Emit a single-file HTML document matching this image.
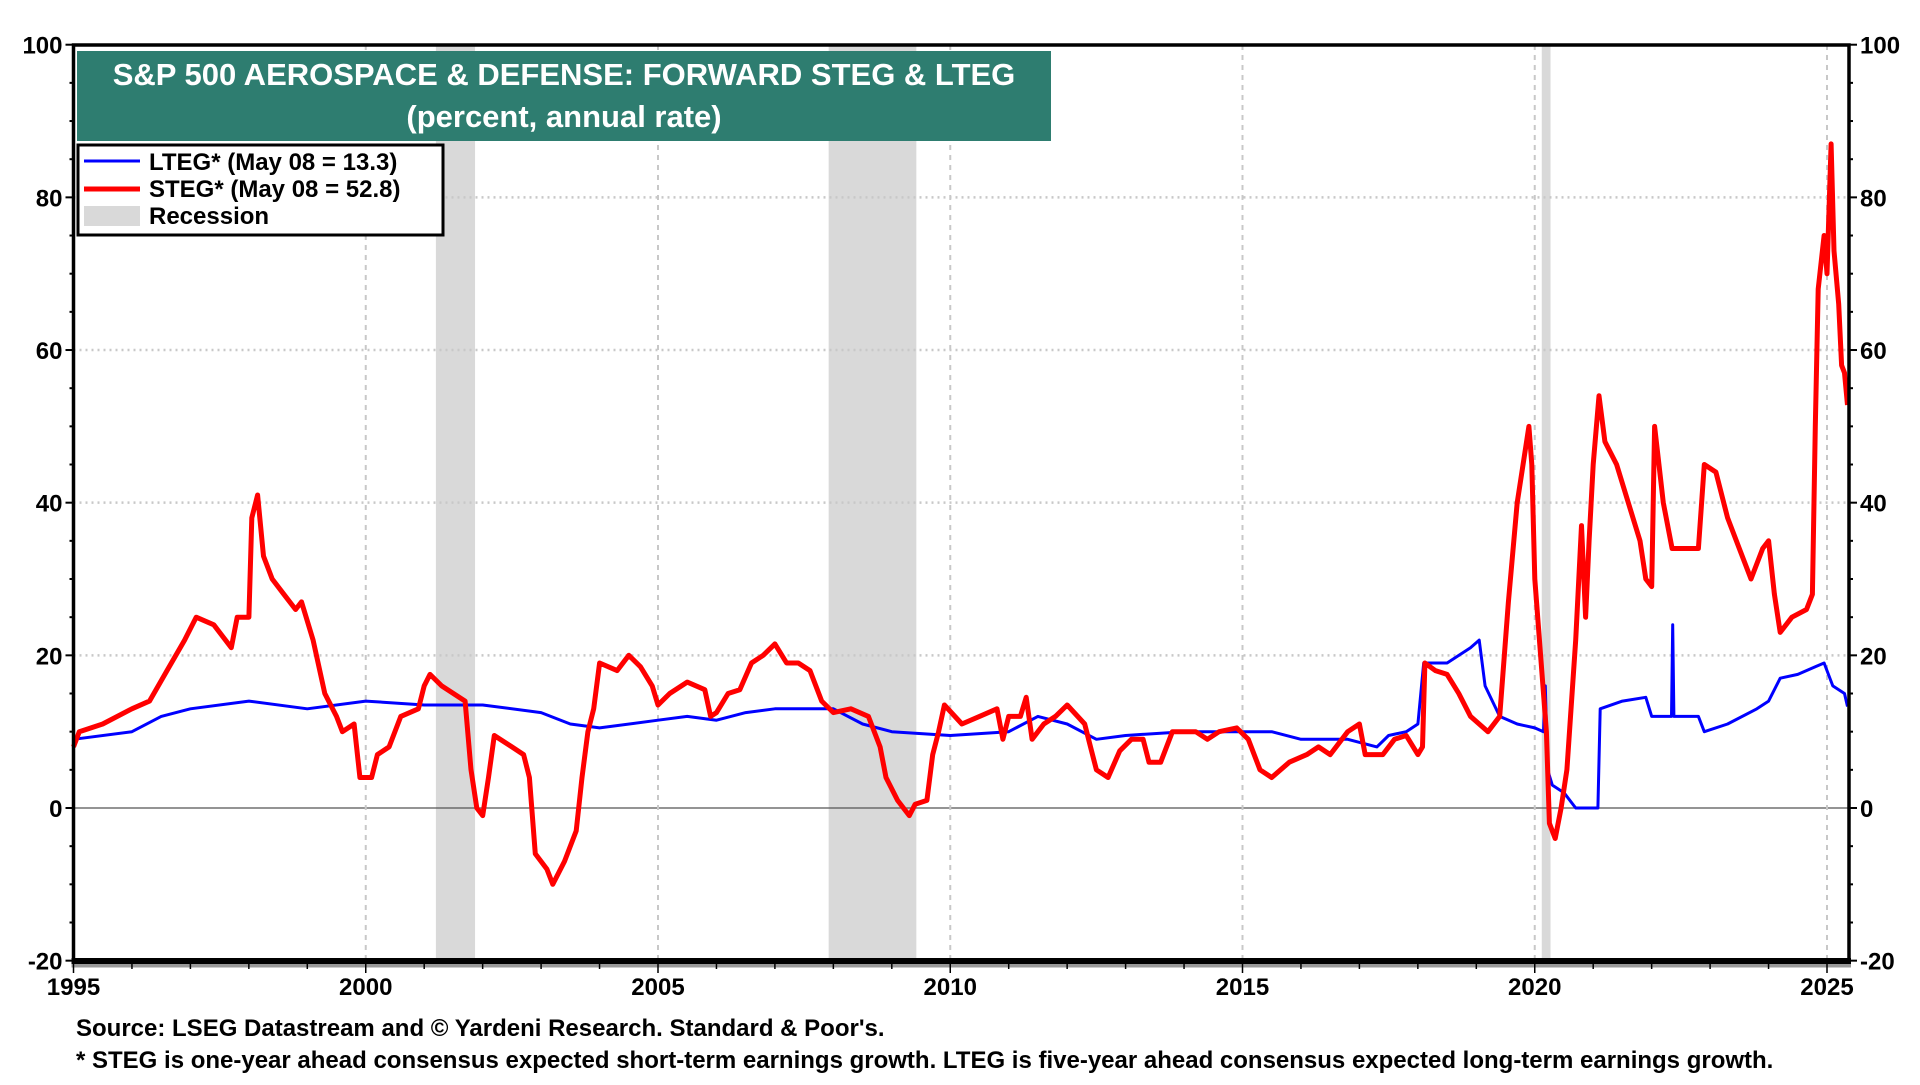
<!DOCTYPE html>
<html><head><meta charset="utf-8">
<style>
html,body{margin:0;padding:0;background:#fff;}
body{width:1920px;height:1080px;overflow:hidden;font-family:"Liberation Sans",Arial,sans-serif;}
svg text{font-family:"Liberation Sans",Arial,sans-serif;font-weight:bold;}
</style></head>
<body>
<svg id="chart" width="1920" height="1080" xmlns="http://www.w3.org/2000/svg">
<g id="bands"></g>
<g id="grid"></g>
<g id="series"></g>
<g id="axes"></g>
<g id="title-box">
  <rect x="77" y="51" width="974" height="90" fill="#2e7d70"/>
  <text x="564" y="85" text-anchor="middle" font-size="31" fill="#fff">S&amp;P 500 AEROSPACE &amp; DEFENSE: FORWARD STEG &amp; LTEG</text>
  <text x="564" y="127" text-anchor="middle" font-size="31" fill="#fff">(percent, annual rate)</text>
</g>
<g id="legend">
  <rect x="78" y="145" width="365" height="90" fill="#fff" stroke="#000" stroke-width="3"/>
  <g>
    <line x1="84" y1="161" x2="140" y2="161" stroke="#0000ff" stroke-width="3"/>
    <text x="149" y="170" font-size="24">LTEG* (May 08 = 13.3)</text>
  </g>
  <g>
    <line x1="84" y1="189" x2="140" y2="189" stroke="#ff0000" stroke-width="5"/>
    <text x="149" y="197" font-size="24">STEG* (May 08 = 52.8)</text>
  </g>
  <g>
    <rect x="84" y="206" width="56" height="20" fill="#d9d9d9"/>
    <text x="149" y="224" font-size="24">Recession</text>
  </g>
</g>
<text x="76" y="1036" font-size="24">Source: LSEG Datastream and © Yardeni Research. Standard &amp; Poor's.</text>
<text x="76" y="1068" font-size="24">* STEG is one-year ahead consensus expected short-term earnings growth. LTEG is five-year ahead consensus expected long-term earnings growth.</text>
</svg>
<script>
const yTicks = [-20, 0, 20, 40, 60, 80, 100];
const xTicks = [1995, 2000, 2005, 2010, 2015, 2020, 2025];
const recessionStart = [2001.2, 2007.92, 2020.12];
const recessionEnd = [2001.87, 2009.42, 2020.27];
const stegYears = [1995.0,1995.1,1995.5,1996.0,1996.3,1996.6,1996.9,1997.1,1997.4,1997.7,1997.8,1998.0,1998.05,1998.15,1998.25,1998.4,1998.6,1998.8,1998.9,1999.1,1999.3,1999.5,1999.6,1999.8,1999.9,2000.1,2000.2,2000.4,2000.6,2000.9,2001.0,2001.1,2001.3,2001.5,2001.7,2001.8,2001.9,2002.0,2002.1,2002.2,2002.5,2002.7,2002.8,2002.9,2003.1,2003.2,2003.4,2003.6,2003.7,2003.8,2003.9,2004.0,2004.3,2004.5,2004.7,2004.9,2005.0,2005.2,2005.5,2005.8,2005.9,2006.0,2006.2,2006.4,2006.6,2006.8,2007.0,2007.2,2007.4,2007.6,2007.8,2008.0,2008.3,2008.6,2008.8,2008.9,2009.1,2009.3,2009.4,2009.6,2009.7,2009.8,2009.9,2010.2,2010.5,2010.8,2010.9,2011.0,2011.2,2011.3,2011.4,2011.6,2011.8,2012.0,2012.3,2012.4,2012.5,2012.7,2012.9,2013.1,2013.3,2013.4,2013.6,2013.8,2014.2,2014.4,2014.6,2014.9,2015.1,2015.3,2015.5,2015.8,2016.1,2016.3,2016.5,2016.8,2017.0,2017.1,2017.4,2017.6,2017.8,2018.0,2018.08,2018.12,2018.3,2018.5,2018.7,2018.9,2019.2,2019.4,2019.55,2019.7,2019.9,2019.95,2020.0,2020.1,2020.2,2020.25,2020.35,2020.45,2020.55,2020.7,2020.8,2020.87,2020.93,2021.0,2021.1,2021.2,2021.4,2021.6,2021.8,2021.9,2022.0,2022.05,2022.2,2022.35,2022.8,2022.9,2023.1,2023.3,2023.5,2023.7,2023.9,2024.0,2024.1,2024.2,2024.4,2024.65,2024.75,2024.8,2024.85,2024.95,2025.0,2025.07,2025.12,2025.2,2025.25,2025.3,2025.35];
const stegValues = [8,10,11,13,14,18,22,25,24,21,25,25,38,41,33,30,28,26,27,22,15,12,10,11,4,4,7,8,12,13,16,17.5,16,15,14,5,0,-1,4,9.5,8,7,4,-6,-8,-10,-7,-3,4,10,13,19,18,20,18.5,16,13.5,15,16.5,15.5,12,12.5,15,15.5,19,20,21.5,19,19,18,14,12.5,13,12,8,4,1,-1,0.5,1,7,10,13.5,11,12,13,9,12,12,14.5,9,11,12,13.5,11,8,5,4,7.5,9,9,6,6,10,10,9,10,10.5,9,5,4,6,7,8,7,10,11,7,7,9,9.5,7,8,19,18,17.5,15,12,10,12,27,40,50,45,30,20,10,-2,-4,0,5,22,37,25,35,45,54,48,45,40,35,30,29,50,40,34,34,45,44,38,34,30,34,35,28,23,25,26,28,50,68,75,70,87,73,66,58,57,52.8];
const ltegYears = [1995.0,1996.0,1996.5,1997.0,1998.0,1999.0,2000.0,2001.0,2002.0,2003.0,2003.5,2004.0,2005.0,2005.5,2006.0,2006.5,2007.0,2008.0,2008.5,2009.0,2010.0,2011.0,2011.5,2012.0,2012.5,2013.0,2014.0,2015.0,2015.5,2016.0,2016.8,2017.3,2017.5,2017.8,2018.0,2018.1,2018.5,2018.9,2019.05,2019.15,2019.4,2019.7,2020.0,2020.15,2020.18,2020.22,2020.3,2020.5,2020.7,2020.9,2021.08,2021.12,2021.5,2021.9,2022.0,2022.34,2022.36,2022.38,2022.8,2022.9,2023.3,2023.8,2024.0,2024.2,2024.5,2024.8,2024.95,2025.0,2025.1,2025.3,2025.35];
const ltegValues = [9,10,12,13,14,13,14,13.5,13.5,12.5,11,10.5,11.5,12,11.5,12.5,13,13,11,10,9.5,10,12,11,9,9.5,10,10,10,9,9,8,9.5,10,11,19,19,21,22,16,12,11,10.5,10,16,5,3,2,0,0,0,13,14,14.5,12,12,24,12,12,10,11,13,14,17,17.5,18.5,19,18,16,15,13.3];

const NS='http://www.w3.org/2000/svg';
const L=73.5, R=1849, T=45, B=961;
const X = y => L + (y-1995)*58.45;
const Y = v => 808 - v*7.633;
function mk(tag, attrs, parent){const e=document.createElementNS(NS,tag);for(const k in attrs)e.setAttribute(k,attrs[k]);parent.appendChild(e);return e;}
const bands=document.getElementById('bands'), grid=document.getElementById('grid'), series=document.getElementById('series'), axes=document.getElementById('axes');

recessionStart.forEach((s,i)=>{
  const r=mk('rect',{x:X(s),y:T,width:X(recessionEnd[i])-X(s),height:B-T,fill:'#d9d9d9'},bands);
  
  
});
yTicks.forEach(v=>{
  if(v===-20||v===100)return;
  const l=mk('line',{x1:L,x2:R,y1:Y(v),y2:Y(v),stroke:v===0?'#555':'#c8c8c8','stroke-width':v===0?1.2:2.5,'stroke-dasharray':v===0?'':'2 4'},grid);
  
  
});
xTicks.forEach(t=>{
  if(t===1995)return;
  const l=mk('line',{x1:X(t),x2:X(t),y1:T,y2:B,stroke:'#c8c8c8','stroke-width':2,'stroke-dasharray':'5 5'},grid);
  
  
});
function pts(xs,vs){return xs.map((x,i)=>X(x).toFixed(1)+','+Y(vs[i]).toFixed(1)).join(' ');}
const lt=mk('polyline',{points:pts(ltegYears,ltegValues),fill:'none',stroke:'#0000ff','stroke-width':3,'stroke-linejoin':'round'},series);


const st=mk('polyline',{points:pts(stegYears,stegValues),fill:'none',stroke:'#ff0000','stroke-width':5,'stroke-linejoin':'round'},series);



mk('rect',{x:L,y:T,width:R-L,height:B-T,fill:'none',stroke:'#000','stroke-width':3.5},axes);
mk('line',{x1:L-2,x2:R+2,y1:B+2,y2:B+2,stroke:'#999','stroke-width':9},axes);
mk('line',{x1:L-2,x2:R+2,y1:B,y2:B,stroke:'#000','stroke-width':6},axes);
for(let v=-20;v<=100;v+=5){
  const major=v%20===0;
  mk('line',{x1:L-(major?8:4),x2:L,y1:Y(v),y2:Y(v),stroke:'#000','stroke-width':2},axes);
  mk('line',{x1:R,x2:R+(major?8:4),y1:Y(v),y2:Y(v),stroke:'#000','stroke-width':2},axes);
}
yTicks.forEach(v=>{
  const a=mk('text',{x:L-11,y:Y(v)+9,'text-anchor':'end','font-size':24},axes);a.textContent=v;
  
  
  const b=mk('text',{x:R+11,y:Y(v)+9,'text-anchor':'start','font-size':24},axes);b.textContent=v;
  
  
});
for(let yr=1995;yr<=2025;yr++){
  mk('line',{x1:X(yr),x2:X(yr),y1:B,y2:B+(yr%5===0?12:8),stroke:'#000','stroke-width':1.5},axes);
}
xTicks.forEach(t=>{
  const a=mk('text',{x:X(t),y:B+34,'text-anchor':'middle','font-size':24},axes);a.textContent=t;
  
  
});
</script>
</body></html>
